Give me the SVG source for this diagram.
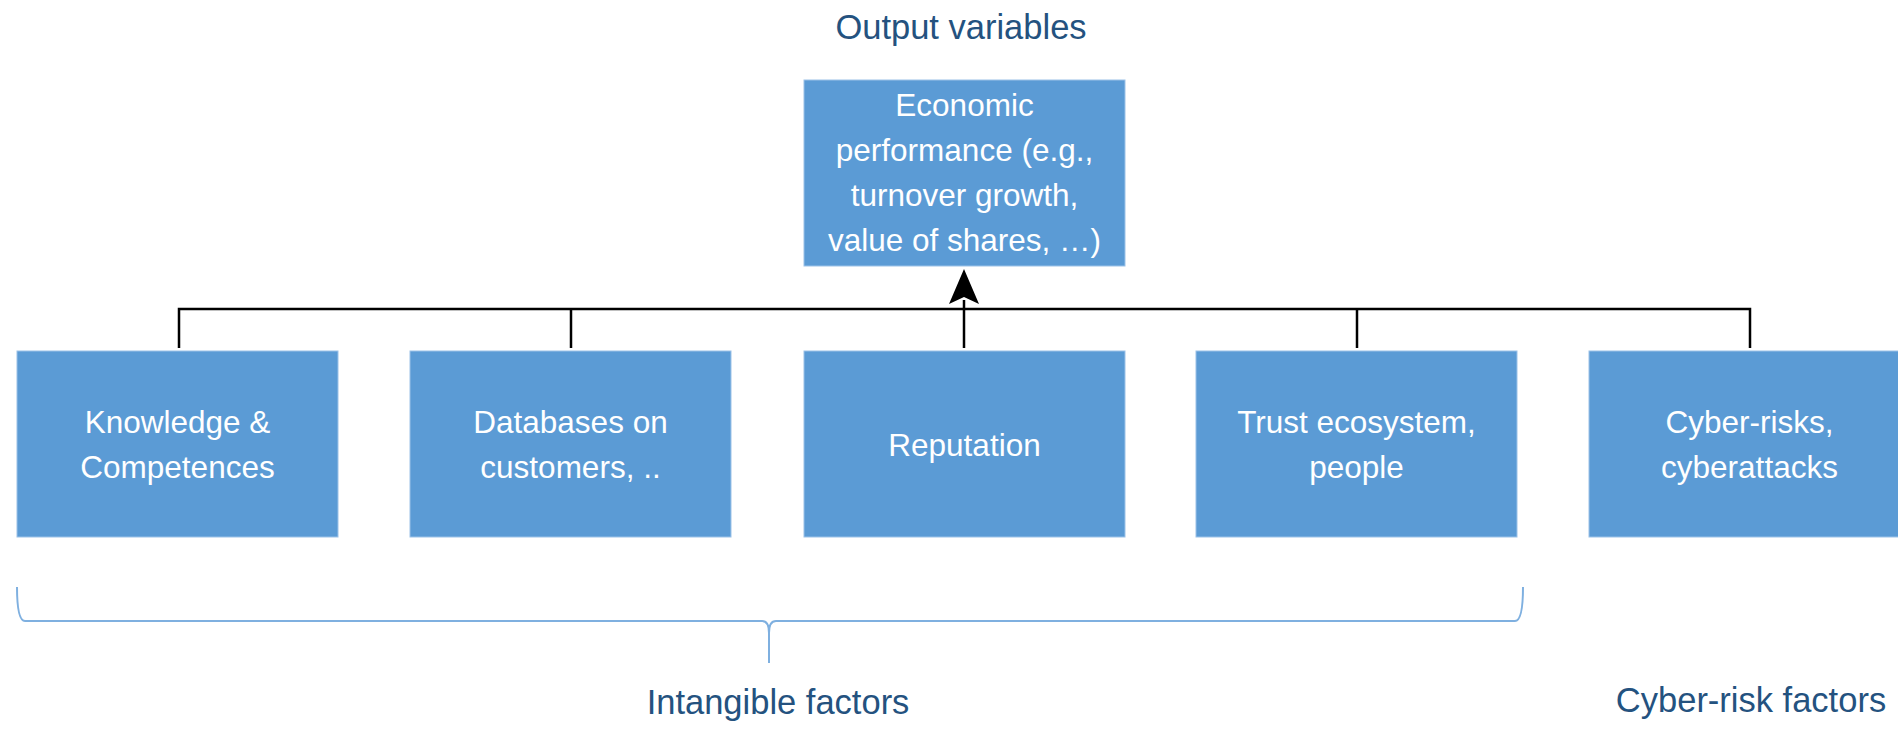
<svg xmlns="http://www.w3.org/2000/svg" width="1898" height="729" viewBox="0 0 1898 729">
  <style>
    .box { fill: #5b9bd5; stroke: #9cc2e8; stroke-width: 1; }
    .boxtxt { font-family: "Liberation Sans", Arial, sans-serif; font-size: 31.5px; fill: #ffffff; text-anchor: middle; }
    .label { font-family: "Liberation Sans", Arial, sans-serif; font-size: 34.5px; fill: #24527f; text-anchor: middle; }
    .conn { fill: none; stroke: #000000; stroke-width: 2.5; }
    .brace { fill: none; stroke: #7fb0e0; stroke-width: 2; }
  </style>
  <defs>
    <marker id="arrow" markerWidth="10" markerHeight="12" refX="10" refY="6" orient="auto" markerUnits="userSpaceOnUse" viewBox="0 0 10 12">
      <path d="M0,0 L10,6 L0,12 L3,6 Z" fill="#000000"/>
    </marker>
  </defs>
  <rect width="1898" height="729" fill="#ffffff"/>

  <!-- connectors: bus line from factor boxes into the output box -->
  <g id="connectors">
    <path class="conn" d="M179,348 V309 H1750 V348"/>
    <path class="conn" d="M571,309 V348"/>
    <path class="conn" d="M1357,309 V348"/>
    <path class="conn" d="M964,348 V300"/>
    <path d="M964,269 L979,304 L964,297 L949,304 Z" fill="#000000"/>
  </g>

  <!-- output node -->
  <text class="label" x="961" y="39">Output variables</text>
  <g id="economic-performance">
    <rect class="box" x="804" y="80" width="321" height="186"/>
    <text class="boxtxt" x="964.5" y="116">Economic</text>
    <text class="boxtxt" x="964.5" y="161">performance (e.g.,</text>
    <text class="boxtxt" x="964.5" y="206">turnover growth,</text>
    <text class="boxtxt" x="964.5" y="251">value of shares, …)</text>
  </g>

  <!-- factor nodes -->
  <g id="knowledge">
    <rect class="box" x="17" y="351" width="321" height="186"/>
    <text class="boxtxt" x="177.5" y="433">Knowledge &amp;</text>
    <text class="boxtxt" x="177.5" y="478">Competences</text>
  </g>
  <g id="databases">
    <rect class="box" x="410" y="351" width="321" height="186"/>
    <text class="boxtxt" x="570.5" y="433">Databases on</text>
    <text class="boxtxt" x="570.5" y="478">customers, ..</text>
  </g>
  <g id="reputation">
    <rect class="box" x="804" y="351" width="321" height="186"/>
    <text class="boxtxt" x="964.5" y="456">Reputation</text>
  </g>
  <g id="trust">
    <rect class="box" x="1196" y="351" width="321" height="186"/>
    <text class="boxtxt" x="1356.5" y="433">Trust ecosystem,</text>
    <text class="boxtxt" x="1356.5" y="478">people</text>
  </g>
  <g id="cyber-risks">
    <rect class="box" x="1589" y="351" width="321" height="186"/>
    <text class="boxtxt" x="1749.5" y="433">Cyber-risks,</text>
    <text class="boxtxt" x="1749.5" y="478">cyberattacks</text>
  </g>

  <!-- grouping brace and group labels -->
  <g id="intangible-group">
    <path class="brace" d="M17,587 Q17,621 25,621 L762,621 Q769,621 769,633 L769,663 M769,633 Q769,621 776,621 L1515,621 Q1523,621 1523,587"/>
    <text class="label" x="778" y="714">Intangible factors</text>
  </g>
  <g id="cyber-group">
    <text class="label" x="1751" y="712">Cyber-risk factors</text>
  </g>
</svg>
